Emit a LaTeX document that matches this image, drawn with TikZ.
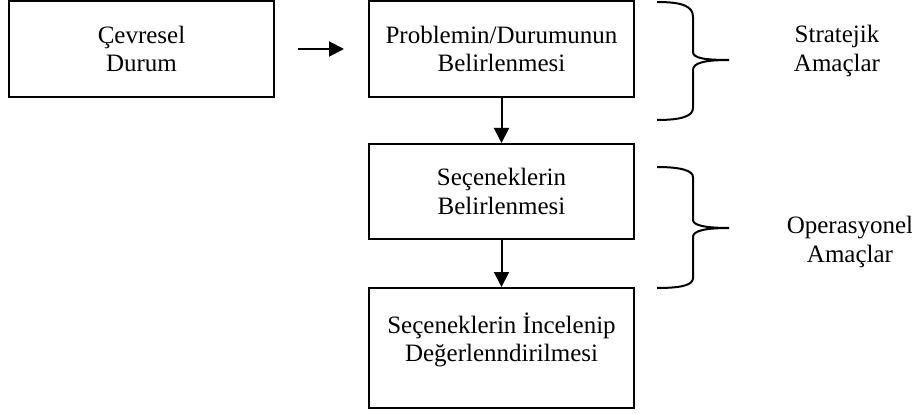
\documentclass[tikz,border=0pt]{standalone}
\usepackage{fontspec}
\setmainfont{Liberation Serif}
\usetikzlibrary{arrows.meta}
\begin{document}
\begin{tikzpicture}[x=1pt,y=-1pt,
  every node/.style={font=\fontsize{25}{28.5}\selectfont, align=center, inner sep=0pt},
  boxnode/.style={draw, line width=2pt, rectangle, minimum width=265pt},
  arr/.style={line width=2pt, -{Triangle[length=15pt,width=15pt]}},
  bracepath/.style={line width=2pt}]
\useasboundingbox (0,0) rectangle (912,414);
\node[boxnode, minimum height=96pt] (b1) at (141.5,49) {Çevresel\\Durum};
\node[boxnode, minimum height=96pt] (b2) at (501.5,49) {Problemin/Durumunun\\Belirlenmesi};
\node[boxnode, minimum height=95pt] (b3) at (501.5,191.5) {Seçeneklerin\\Belirlenmesi};
\node[boxnode, minimum height=120pt] (b4) at (501.5,348) {};
\node (b4t) at (501.5,340) {Seçeneklerin İncelenip\\Değerlenndirilmesi};
\draw[arr] ([xshift=23pt]b1.east) -- ([xshift=-24pt]b2.west);
\draw[arr] (b2.south) -- (b3.north);
\draw[arr] (b3.south) -- (b4.north);
% braces
\draw[bracepath] (657,2) .. controls (682,2) and (693,6) .. (693,17) -- (693,52)
  .. controls (693,58) and (704,60) .. (729,60)
  .. controls (704,60) and (693,63) .. (693,70) -- (693,108)
  .. controls (693,116) and (682,120) .. (657,120);
\draw[bracepath] (657,167) .. controls (682,167) and (693,171) .. (693,177) -- (693,220)
  .. controls (693,225) and (704,228) .. (729,228)
  .. controls (704,228) and (693,231) .. (693,237) -- (693,278)
  .. controls (693,285) and (682,288) .. (657,288);
\node (s1) at (837,51) {Stratejik\\Amaçlar};
\node (s2) at (850,242) {Operasyonel\\Amaçlar};
\end{tikzpicture}
\end{document}
